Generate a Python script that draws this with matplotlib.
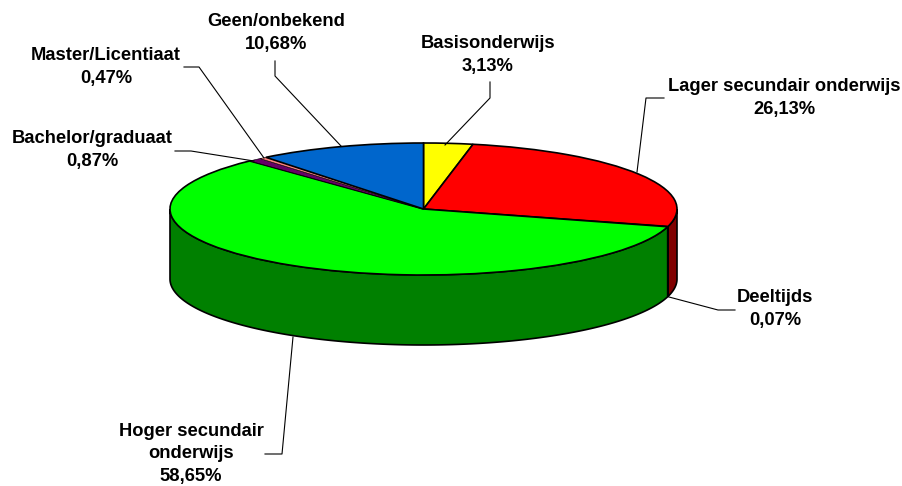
import numpy as np
from matplotlib import pyplot as plt
from matplotlib.patches import Polygon

# clockwise from the top of the pie
categories = ['Basisonderwijs', 'Lager secundair onderwijs', 'Deeltijds', 'Hoger secundair\nonderwijs',
              'Bachelor/graduaat', 'Master/Licentiaat', 'Geen/onbekend']
values = [3.13, 26.13, 0.07, 58.65, 0.87, 0.47, 10.68]
value_labels = ['3,13%', '26,13%', '0,07%', '58,65%', '0,87%', '0,47%', '10,68%']
top_colors = ['#ffff00', '#ff0000', '#800000', '#00ff00', '#660066', '#ff8080', '#0066cc']
side_colors = ['#808000', '#800000', '#400000', '#008000', '#330033', '#804040', '#003366']

# label centre (pixels) and leader line (pixels)
label_pos = [(488, 55), (784, 98), (775, 309), (191, 454), (92, 150), (106, 67), (276, 33)]
leaders = [
    [(490, 82), (490, 98), (445, 145)],
    [(664, 98), (646, 98), (637, 172)],
    [(735, 310), (718, 310), (669, 297)],
    [(265, 454), (282, 454), (293, 337)],
    [(175, 151), (191, 151), (254, 161)],
    [(184, 67), (199, 67), (264, 158)],
    [(275, 61), (275, 76), (341, 146)],
]

W, H = 902, 486
cx, cy, rx, ry, depth = 423.5, 209, 253.5, 66, 70


def px(x, y):
    # pixel position to the squashed pie coordinates
    return (x - cx) / rx, (cy - y) / ry


plt.rcParams['font.family'] = ['Liberation Sans', 'DejaVu Sans']
fig = plt.figure(figsize=(W / 100, H / 100), dpi=100)
ax = fig.add_axes([0, 0, 1, 1])
h = depth / ry

# side wall, only the part that faces the viewer
edges = np.cumsum([0] + values) / sum(values) * 2 * np.pi
for i in range(len(values)):
    a0, a1 = edges[i], edges[i + 1]
    lo, hi = max(a0, np.pi / 2), min(a1, 3 * np.pi / 2)
    if hi <= lo:
        continue
    t = np.linspace(lo, hi, 200)
    xs, ys = np.sin(t), np.cos(t)
    pts = np.r_[np.c_[xs, ys], np.c_[xs, ys - h][::-1]]
    ax.add_patch(Polygon(pts, closed=True, facecolor=side_colors[i], edgecolor='black', linewidth=1.2))

# top of the pie
wedges, _ = ax.pie(values, colors=top_colors, startangle=90, counterclock=False, radius=1,
                   wedgeprops={'edgecolor': 'black', 'linewidth': 1.2})
# thin slices would disappear under a full outline
for w, v in zip(wedges, values):
    if v < 1:
        w.set_linewidth(0.4)

ax.set_aspect('auto')
ax.set_xlim(px(0, 0)[0], px(W, 0)[0])
ax.set_ylim(px(0, H)[1], px(0, 0)[1])
ax.axis('off')

for cat, val, pos in zip(categories, value_labels, label_pos):
    x, y = px(*pos)
    ax.text(x, y, cat + '\n' + val, ha='center', va='center', fontsize=13.2, fontweight='bold',
            color='black', linespacing=1.42)

for line in leaders:
    pts = np.array([px(*p) for p in line])
    ax.plot(pts[:, 0], pts[:, 1], color='black', linewidth=0.8)

fig.savefig('out.png', dpi=100, facecolor='white')
